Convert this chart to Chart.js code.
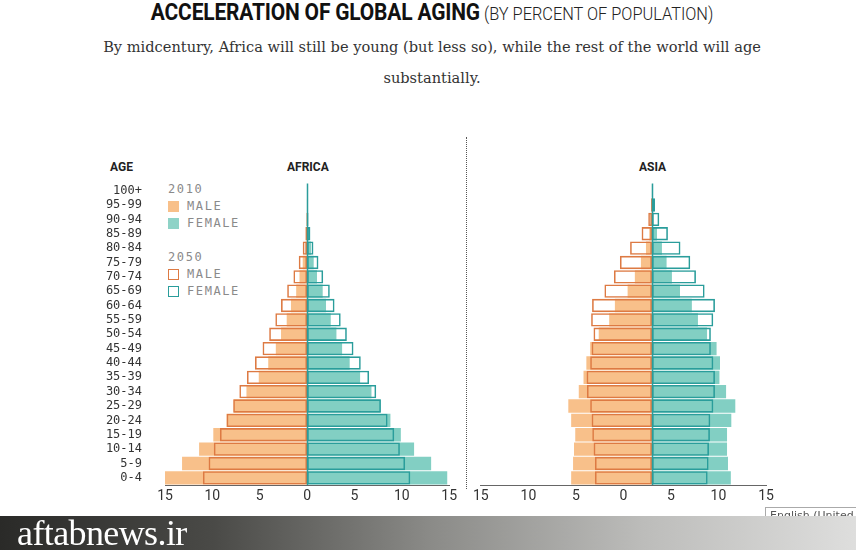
<!DOCTYPE html>
<html>
<head>
<meta charset="utf-8">
<script src="https://cdn.jsdelivr.net/npm/chart.js@4/dist/chart.umd.min.js"></script>
<style>
  body { margin: 0; width: 856px; height: 550px; background: #fff; position: relative; overflow: hidden; font-family: Roboto, sans-serif; }
  .abs { position: absolute; }
  #title { left: 0; width: 854px; top: 0; text-align: center; white-space: nowrap; line-height: 24px; }
  #title .big { display: inline-block; font-family: Roboto, sans-serif; font-weight: 700; font-size: 24px; color: #111; transform: scaleX(0.873); transform-origin: right center; letter-spacing: -0.2px; }
  #title .small { display: inline-block; font-family: Roboto, sans-serif; font-weight: 300; font-size: 19px; color: #222; transform: scaleX(0.86); transform-origin: left center; }
  #sub { left: 0; width: 864px; top: 31px; text-align: center; font-family: 'DejaVu Serif', serif; font-size: 14.6px; line-height: 31px; color: #333; }
  .head { font-family: Roboto, sans-serif; font-weight: 700; font-size: 12px; color: #222; top: 160px; }
  .leg { font-family: 'DejaVu Sans Mono', monospace; font-size: 12px; color: #8a8a8a; letter-spacing: 1.6px; }
  .sw { width: 11px; height: 11px; box-sizing: border-box; }
  #divider { left: 466px; top: 137px; height: 352px; border-left: 1px dotted #555; }
  #lang { left: 765px; top: 507px; width: 100px; height: 18px; border: 1px solid #aaa; font-size: 11px; color: #555; padding: 1px 4px; box-sizing: border-box; font-family: 'DejaVu Sans', sans-serif; }
  #banner { left: 0; top: 516px; width: 856px; height: 34px; background: linear-gradient(to right, #2a2a28 0%, #4a4a47 25%, #8a8a87 50%, #bcbcba 75%, #dededd 100%); }
  #banner span { position: absolute; left: 17px; top: -4px; font-family: 'Liberation Serif', serif; font-size: 36px; color: #fff; letter-spacing: -0.6px; }
</style>
</head>
<body>
<div id="title" class="abs"><span class="big">ACCELERATION OF GLOBAL AGING</span> <span class="small">(BY PERCENT OF POPULATION)</span></div>
<div id="sub" class="abs">By midcentury, Africa will still be young (but less so), while the rest of the world will age<br>substantially.</div>

<div class="abs head" style="left:110px;">AGE</div>
<div class="abs head" style="left:287px;">AFRICA</div>
<div class="abs head" style="left:639px;">ASIA</div>

<div class="abs leg" style="left:168px;top:182px;">2010</div>
<div class="abs sw" style="left:168px;top:201px;background:#f8c08a;"></div>
<div class="abs leg" style="left:187px;top:199px;">MALE</div>
<div class="abs sw" style="left:168px;top:218px;background:#8fd3c7;"></div>
<div class="abs leg" style="left:187px;top:216px;">FEMALE</div>
<div class="abs leg" style="left:168px;top:250px;">2050</div>
<div class="abs sw" style="left:168px;top:269px;border:1.5px solid #dd7a43;"></div>
<div class="abs leg" style="left:187px;top:267px;">MALE</div>
<div class="abs sw" style="left:168px;top:286px;border:1.5px solid #2a9d9b;"></div>
<div class="abs leg" style="left:187px;top:284px;">FEMALE</div>

<div id="divider" class="abs"></div>

<canvas id="africa" class="abs" width="360" height="360" style="left:100px;top:150px;"></canvas>
<canvas id="asia" class="abs" width="310" height="360" style="left:470px;top:150px;"></canvas>

<div id="lang" class="abs">English (United States)</div>
<div id="banner" class="abs"><span>aftabnews.ir</span></div>

<script>
// age groups, youngest first (axis is reversed so 0-4 sits at the bottom)
const ageGroups = ['0-4', '5-9', '10-14', '15-19', '20-24', '25-29', '30-34', '35-39', '40-44', '45-49',
    '50-54', '55-59', '60-64', '65-69', '70-74', '75-79', '80-84', '85-89', '90-94', '95-99', '100+'];

// AFRICA, percent of population
const africaMale2010 = [15.2, 13.2, 11.4, 9.9, 8.5, 7.75, 6.4, 5.1, 4.1, 3.3, 2.75, 2.15, 1.7, 1.15, 0.8, 0.46, 0.18, 0.08, 0.03, 0.01, 0];
const africaFemale2010 = [14.8, 13.1, 11.3, 9.9, 8.8, 7.75, 6.8, 5.6, 4.5, 3.7, 3.1, 2.5, 2.0, 1.65, 1.05, 0.7, 0.42, 0.15, 0.05, 0.02, 0];
const africaMale2050 = [11.0, 10.4, 9.85, 9.2, 8.5, 7.8, 7.15, 6.35, 5.5, 4.7, 4.0, 3.35, 2.75, 2.1, 1.44, 0.88, 0.46, 0.18, 0.07, 0.02, 0];
const africaFemale2050 = [10.9, 10.35, 9.8, 9.2, 8.5, 7.8, 7.3, 6.55, 5.67, 4.9, 4.2, 3.55, 2.9, 2.4, 1.7, 1.2, 0.67, 0.35, 0.15, 0.04, 0.01];

// ASIA, percent of population
const asiaMale2010 = [8.5, 8.3, 8.2, 8.07, 8.5, 8.8, 7.7, 7.2, 6.9, 6.5, 5.6, 4.5, 3.9, 2.56, 1.8, 1.16, 0.63, 0.28, 0.08, 0.02, 0];
const asiaFemale2010 = [8.3, 8.0, 7.9, 7.9, 8.35, 8.77, 7.8, 7.1, 7.16, 6.8, 5.8, 4.84, 4.2, 2.95, 2.1, 1.54, 1.05, 0.53, 0.15, 0.03, 0.01];
const asiaMale2050 = [6.0, 6.0, 6.14, 6.28, 6.35, 6.5, 6.84, 6.88, 6.5, 6.35, 6.15, 6.4, 6.3, 5.0, 4.0, 3.37, 2.3, 1.09, 0.39, 0.1, 0.02];
const asiaFemale2050 = [5.86, 5.96, 6.0, 6.1, 6.14, 6.46, 6.63, 6.63, 6.46, 6.2, 6.2, 6.45, 6.63, 5.54, 4.63, 4.03, 3.0, 1.68, 0.77, 0.32, 0.05];

const axisTicks = [-15, -10, -5, 0, 5, 10, 15];

const C = {
    male10: '#f8c08a',
    female10: '#82cfc3',
    male50: '#dd7a43',
    female50: '#2a9d9b',
    axis: '#666',
    text: '#333'
};

Chart.defaults.animation = false;
Chart.defaults.font.family = "'Liberation Sans Narrow', Roboto, sans-serif";

//
// teal line down the middle of each pyramid
//
const centerLine = {
    id: 'centerLine',
    afterDatasetsDraw(chart) {
        const s = chart.scales.x;
        const px = Math.round(s.getPixelForValue(0)) + 0.5;
        const ctx = chart.ctx;
        ctx.save();
        ctx.strokeStyle = C.female50;
        ctx.lineWidth = 1.5;
        ctx.beginPath();
        ctx.moveTo(px, chart.chartArea.top);
        ctx.lineTo(px, chart.chartArea.bottom);
        ctx.stroke();
        ctx.restore();
    }
};

function buildDatasets(m10, f10, m50, f50) {
    const bar = { barPercentage: 0.93, categoryPercentage: 1, grouped: false };
    return [
        // 2050 outlines on top
        Object.assign({ label: '2050 male', data: m50.map(v => -v), backgroundColor: 'rgba(0,0,0,0)', borderColor: C.male50, borderWidth: 1.6, borderSkipped: false, order: 0 }, bar),
        Object.assign({ label: '2050 female', data: f50, backgroundColor: 'rgba(0,0,0,0)', borderColor: C.female50, borderWidth: 1.6, borderSkipped: false, order: 0 }, bar),
        Object.assign({ label: '2010 male', data: m10.map(v => -v), backgroundColor: C.male10, borderWidth: 0, order: 1 }, bar),
        Object.assign({ label: '2010 female', data: f10, backgroundColor: C.female10, borderWidth: 0, order: 1 }, bar)
    ];
}

function tickAxis(min, max) {
    return {
        type: 'linear',
        position: 'bottom',
        min: min,
        max: max,
        afterBuildTicks: s => { s.ticks = axisTicks.map(v => ({ value: v })); },
        afterFit: s => { s.height = 25; },
        grid: { display: false, drawTicks: false },
        border: { display: true, color: C.axis, width: 1 },
        ticks: { color: C.text, font: { size: 14 }, padding: 3, callback: v => Math.abs(v) }
    };
}

const commonPlugins = { legend: { display: false }, tooltip: { enabled: false } };

// AFRICA
new Chart(document.getElementById('africa'), {
    type: 'bar',
    data: { labels: ageGroups, datasets: buildDatasets(africaMale2010, africaFemale2010, africaMale2050, africaFemale2050) },
    options: {
        indexAxis: 'y',
        responsive: false,
        layout: { padding: { top: 33.5, right: 9, left: 0, bottom: 0 } },
        plugins: commonPlugins,
        scales: {
            x: tickAxis(-15, 15),
            y: {
                reverse: true,
                afterFit: s => { s.width = 65; },
                // invisible tick marks make the gap between age labels and bars
                grid: { display: true, drawOnChartArea: false, color: 'rgba(0,0,0,0)', tickLength: 20 },
                border: { display: false },
                ticks: { color: C.text, font: { family: "'DejaVu Sans Mono', monospace", size: 12 }, padding: 3, autoSkip: false }
            }
        }
    },
    plugins: [centerLine]
});

// ASIA - bars sit 3 units right of the printed 0 tick, as in the original graphic
const asiaShift = 3;
new Chart(document.getElementById('asia'), {
    type: 'bar',
    data: { labels: ageGroups, datasets: buildDatasets(asiaMale2010, asiaFemale2010, asiaMale2050, asiaFemale2050) },
    options: {
        indexAxis: 'y',
        responsive: false,
        layout: { padding: { top: 33.5, right: 14, left: 10, bottom: 0 } },
        plugins: commonPlugins,
        scales: {
            x: { type: 'linear', display: false, min: -15 - asiaShift, max: 15 - asiaShift },
            xt: tickAxis(-15, 15),
            y: { reverse: true, display: false }
        }
    },
    plugins: [centerLine]
});
</script>
</body>
</html>
